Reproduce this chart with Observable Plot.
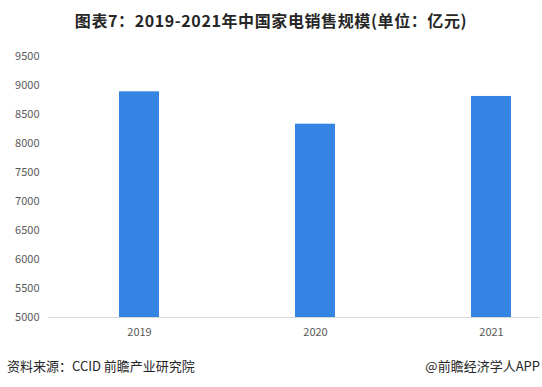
<!DOCTYPE html>
<html>
<head>
<meta charset="utf-8">
<script src="https://cdn.jsdelivr.net/npm/d3@7"></script>
<script src="https://cdn.jsdelivr.net/npm/@observablehq/plot@0.6"></script>
<style>
  html, body { margin: 0; padding: 0; background: #fff; }
  #wrap { position: relative; width: 542px; height: 387px; font-family: "Noto Sans CJK SC", "Noto Sans", sans-serif; }
  #title { position: absolute; left: 0; top: 8px; width: 542px; text-align: center; font-size: 16px; letter-spacing: 0.6px; font-weight: bold; color: #262626; line-height: 24px; }
  #chart { position: absolute; left: 0; top: 40px; }
  #source { position: absolute; left: 7px; top: 356px; font-size: 13px; color: #262626; line-height: 20px; }
  #brand { position: absolute; right: 2px; top: 356px; font-size: 13px; color: #262626; line-height: 20px; }
</style>
</head>
<body>
<div id="wrap">
  <div id="title">图表7：2019-2021年中国家电销售规模(单位：亿元)</div>
  <div id="chart"></div>
  <div id="source">资料来源：CCID 前瞻产业研究院</div>
  <div id="brand">@前瞻经济学人APP</div>
</div>
<script>
const years = ["2019", "2020", "2021"];
const sales = [8891, 8333, 8811];
const yTicks = [5000, 5500, 6000, 6500, 7000, 7500, 8000, 8500, 9000, 9500];
const baseline = 5000;

const data = years.map((year, i) => ({year, value: sales[i]}));

const chart = Plot.plot({
  width: 542,
  height: 305,
  marginTop: 16,
  marginBottom: 28,
  marginLeft: 48,
  marginRight: 2,
  style: {fontFamily: "'Noto Sans CJK SC', 'Noto Sans', sans-serif", fontSize: "11px", color: "#595959", background: "transparent"},
  x: {domain: years, range: [49.75, 579.25], paddingInner: 0.7734, paddingOuter: 0.3867, label: null},
  y: {domain: [5000, 9500], label: null},
  marks: [
    Plot.ruleY([baseline], {stroke: "#d9d9d9", strokeWidth: 1}),
    Plot.barY(data, {x: "year", y1: baseline, y2: "value", fill: "#3584e4"}),
    Plot.axisX({tickSize: 0, tickPadding: 11, fontSize: 11, fill: "#595959"}),
    Plot.axisY(yTicks, {tickSize: 0, tickPadding: 9, fontSize: 11, fill: "#595959", tickFormat: d => String(d)})
  ]
});
document.getElementById("chart").appendChild(chart);
</script>
</body>
</html>
